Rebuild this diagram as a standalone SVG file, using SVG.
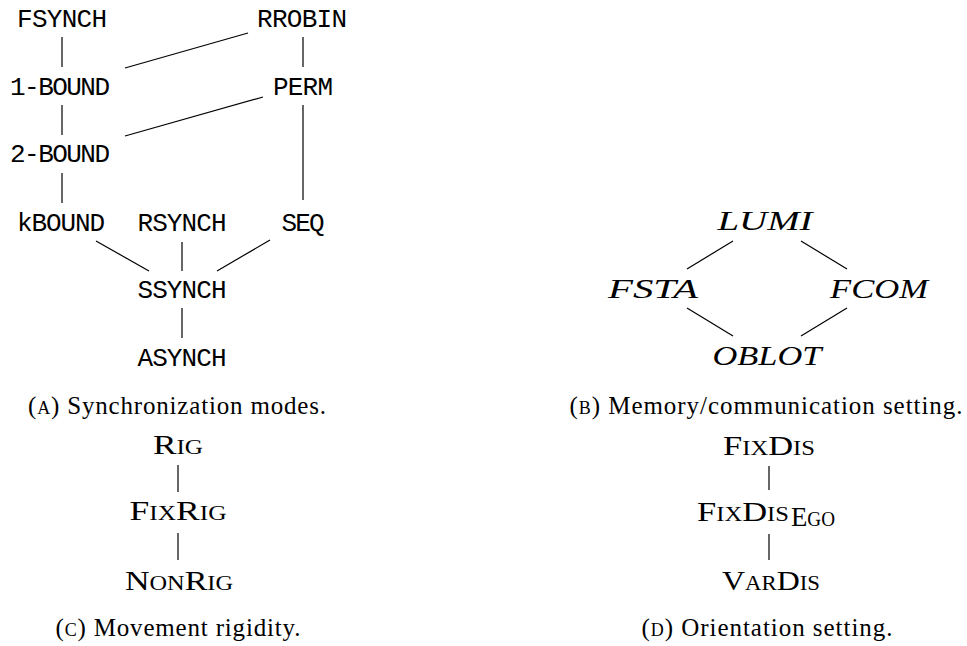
<svg xmlns="http://www.w3.org/2000/svg" width="967" height="646" viewBox="0 0 967 646">
<style>
.tt{font-family:"Liberation Mono","Courier New",monospace;font-size:26px;fill:#000;text-anchor:middle}
.cal{font-family:"Liberation Serif","Times New Roman",serif;font-style:italic;font-size:28px;fill:#000;text-anchor:middle}
.sc{font-family:"Liberation Serif","Times New Roman",serif;font-size:28px;font-variant:small-caps;fill:#000;text-anchor:middle}
.cap{font-family:"Liberation Serif","Times New Roman",serif;font-size:25px;fill:#000;text-anchor:middle}
.smc{font-variant:small-caps}
.edge{stroke:#000;stroke-width:1.2;fill:none}
</style>
<rect width="967" height="646" fill="#fff"/>
<g id="connectors" class="edge">
<line x1="62" y1="37" x2="62" y2="67"/>
<line x1="303" y1="37" x2="303" y2="67"/>
<line x1="125" y1="68" x2="248" y2="33"/>
<line x1="62" y1="105" x2="62" y2="135"/>
<line x1="125" y1="136" x2="263" y2="97"/>
<line x1="303" y1="105" x2="303" y2="200"/>
<line x1="62" y1="173" x2="62" y2="203"/>
<line x1="96" y1="241" x2="149" y2="271"/>
<line x1="182" y1="242" x2="182" y2="271"/>
<line x1="270" y1="240" x2="217" y2="271"/>
<line x1="182" y1="308" x2="182" y2="338"/>
<line x1="733" y1="241" x2="687" y2="269"/>
<line x1="801" y1="241" x2="847" y2="269"/>
<line x1="687" y1="308" x2="733" y2="336"/>
<line x1="847" y1="308" x2="801" y2="336"/>
<line x1="178" y1="465" x2="178" y2="492"/>
<line x1="178" y1="533" x2="178" y2="560"/>
<line x1="769" y1="466" x2="769" y2="490"/>
<line x1="769" y1="534" x2="769" y2="560"/>
</g>
<g id="fsynch"><text class="tt" x="62" y="27" textLength="90">FSYNCH</text></g>
<g id="rrobin"><text class="tt" x="302" y="27" textLength="90">RROBIN</text></g>
<g id="bound1"><text class="tt" x="60" y="95" textLength="100">1-BOUND</text></g>
<g id="perm"><text class="tt" x="303" y="95" textLength="60">PERM</text></g>
<g id="bound2"><text class="tt" x="60" y="162" textLength="100">2-BOUND</text></g>
<g id="kbound"><text class="tt" x="61" y="231" textLength="88">kBOUND</text></g>
<g id="rsynch"><text class="tt" x="182" y="231" textLength="89">RSYNCH</text></g>
<g id="seq"><text class="tt" x="303" y="231" textLength="43">SEQ</text></g>
<g id="ssynch"><text class="tt" x="182" y="298" textLength="89">SSYNCH</text></g>
<g id="asynch"><text class="tt" x="182" y="366" textLength="89">ASYNCH</text></g>
<g id="lumi"><text class="cal" x="765" y="230" textLength="95" lengthAdjust="spacingAndGlyphs">LUMI</text></g>
<g id="fsta"><text class="cal" x="653" y="298" textLength="90" lengthAdjust="spacingAndGlyphs">FSTA</text></g>
<g id="fcom"><text class="cal" x="879" y="298" textLength="98" lengthAdjust="spacingAndGlyphs">FCOM</text></g>
<g id="oblot"><text class="cal" x="767" y="365" textLength="109" lengthAdjust="spacingAndGlyphs">OBLOT</text></g>
<g id="rig"><text class="sc" x="178" y="454" textLength="50" lengthAdjust="spacingAndGlyphs">Rig</text></g>
<g id="fixrig"><text class="sc" x="178" y="520" textLength="97" lengthAdjust="spacingAndGlyphs">FixRig</text></g>
<g id="nonrig"><text class="sc" x="179" y="590" textLength="108" lengthAdjust="spacingAndGlyphs">NonRig</text></g>
<g id="fixdis"><text class="sc" x="769" y="455" textLength="92" lengthAdjust="spacingAndGlyphs">FixDis</text></g>
<g id="fixdisego"><text class="sc" x="743" y="521" textLength="92" lengthAdjust="spacingAndGlyphs">FixDis</text><text class="sc" x="813" y="526" font-size="19" textLength="44" lengthAdjust="spacingAndGlyphs">Ego</text></g>
<g id="vardis"><text class="sc" x="771" y="590" textLength="98" lengthAdjust="spacingAndGlyphs">VarDis</text></g>
<g id="captions">
<text class="cap" x="177" y="414" textLength="298">(<tspan class="smc">a</tspan>) Synchronization modes.</text>
<text class="cap" x="766" y="414" textLength="393">(<tspan class="smc">b</tspan>) Memory/communication setting.</text>
<text class="cap" x="178" y="636" textLength="245">(<tspan class="smc">c</tspan>) Movement rigidity.</text>
<text class="cap" x="767" y="636" textLength="251">(<tspan class="smc">d</tspan>) Orientation setting.</text>
</g>
</svg>
